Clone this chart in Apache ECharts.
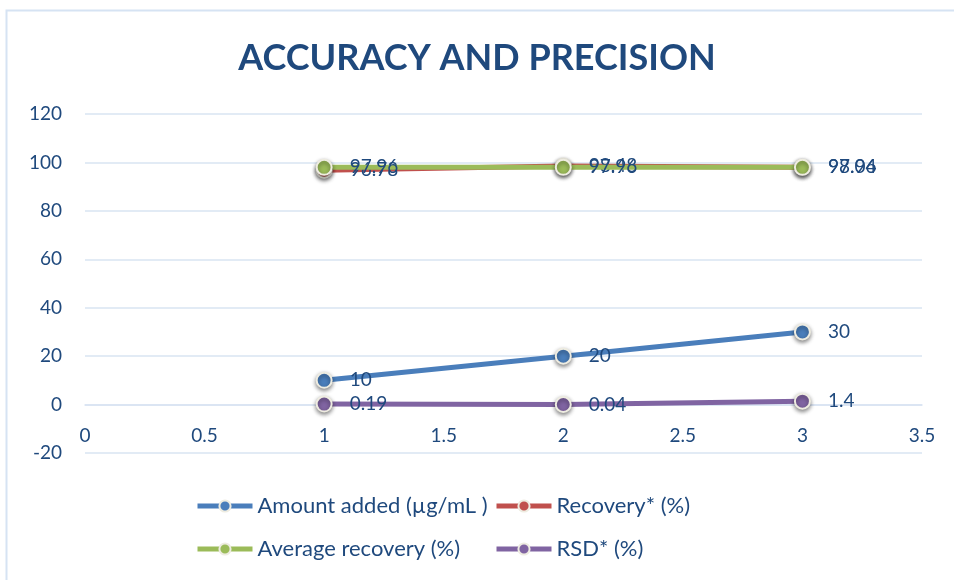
<!DOCTYPE html>
<html>
<head>
<meta charset="utf-8">
<title>Accuracy and Precision</title>
<script src="https://cdn.jsdelivr.net/npm/echarts@6/dist/echarts.min.js"></script>
<style>
  html, body { margin: 0; padding: 0; background: #ffffff; }
  #chart { width: 954px; height: 580px; }
</style>
</head>
<body>
<div id="chart"></div>
<script>
// Concentration levels (x positions)
const levels = [1, 2, 3];

// Series values per level
const amountAdded = [10, 20, 30];
const recovery = [96.78, 98.48, 98.04];
const averageRecovery = [97.96, 97.96, 97.96];
const rsd = [0.19, 0.04, 1.4];

// Series names
const seriesNames = ['Amount added (µg/mL )', 'Recovery* (%)', 'Average recovery (%)', 'RSD* (%)'];
const seriesColors = ['#4a7ebb', '#c0504d', '#9bbb59', '#8064a2'];
const seriesValues = [amountAdded, recovery, averageRecovery, rsd];

const FONT = 'Lato, "Open Sans", sans-serif';
const TEXT_BLUE = '#1f497d';

const chart = echarts.init(document.getElementById('chart'), null, { renderer: 'canvas' });

const series = seriesNames.map((name, i) => ({
  name: name,
  type: 'line',
  data: levels.map((x, k) => [x, seriesValues[i][k]]),
  symbol: 'circle',
  symbolSize: 15,
  lineStyle: { color: seriesColors[i], width: 5 },
  itemStyle: {
    color: seriesColors[i],
    borderColor: '#eeece1',
    borderWidth: 2,
    shadowColor: 'rgba(0,0,0,0.45)',
    shadowBlur: 4,
    shadowOffsetY: 2
  },
  label: {
    show: true,
    position: 'right',
    distance: 17,
    color: TEXT_BLUE,
    fontFamily: FONT,
    fontSize: 19
  },
  emphasis: { disabled: true },
  animation: false,
  z: 2 + i
}));

const legendText = { color: TEXT_BLUE, fontFamily: FONT, fontSize: 22, lineHeight: 24 };

function legendColumn(names, left) {
  return {
    data: names,
    orient: 'vertical',
    left: left,
    top: 494,
    padding: 0,
    itemWidth: 55,
    itemHeight: 14,
    itemGap: 19,
    lineStyle: { width: 5 },
    itemStyle: { borderColor: '#eeece1', borderWidth: 2 },
    textStyle: legendText,
    selectedMode: false
  };
}

chart.setOption({
  backgroundColor: '#ffffff',
  animation: false,
  graphic: [{
    type: 'polyline',
    shape: { points: [[6.5, 600], [6.5, 10.5], [960, 10.5]] },
    style: { stroke: '#d6e3f3', lineWidth: 2, fill: null },
    silent: true
  }],
  title: {
    text: 'ACCURACY AND PRECISION',
    left: 'center',
    top: 35,
    textStyle: { color: TEXT_BLUE, fontFamily: FONT, fontWeight: 'bold', fontSize: 36 }
  },
  legend: [
    legendColumn([seriesNames[0], seriesNames[2]], 195),
    legendColumn([seriesNames[1], seriesNames[3]], 494)
  ],
  grid: { left: 85, right: 32, top: 114, bottom: 127, containLabel: false },
  xAxis: {
    type: 'value',
    min: 0,
    max: 3.5,
    interval: 0.5,
    offset: -48.5,
    axisLine: { show: true, onZero: false, lineStyle: { color: '#d9e4f2', width: 1.5 } },
    axisTick: { show: false },
    splitLine: { show: false },
    axisLabel: { color: TEXT_BLUE, fontFamily: FONT, fontSize: 19, margin: 22 }
  },
  yAxis: {
    type: 'value',
    min: -20,
    max: 120,
    interval: 20,
    axisLine: { show: false },
    axisTick: { show: false },
    splitLine: { show: true, lineStyle: { color: '#d9e4f2', width: 1.5 } },
    axisLabel: { color: TEXT_BLUE, fontFamily: FONT, fontSize: 19, margin: 23 }
  },
  series: series
});
</script>
</body>
</html>
